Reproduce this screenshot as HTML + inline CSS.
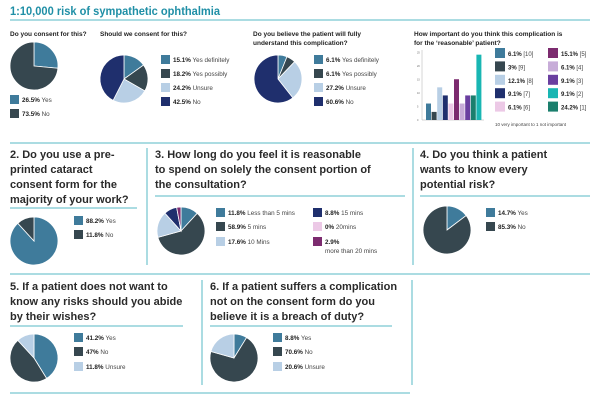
<!DOCTYPE html>
<html><head><meta charset="utf-8"><style>
body{margin:0;background:#fff;width:600px;height:400px;overflow:hidden;font-family:"Liberation Sans",sans-serif}
svg{position:absolute;left:0;top:0}
</style></head><body>
<svg id="s" width="600" height="400" viewBox="0 0 600 400" font-family="Liberation Sans, sans-serif">
<text x="10" y="15" font-size="12" font-weight="bold" fill="#1f8fa6" textLength="210" lengthAdjust="spacingAndGlyphs">1:10,000 risk of sympathetic ophthalmia</text>
<g stroke="#8fd0d9" stroke-width="1.5">
<line x1="10" y1="20" x2="590" y2="20"/>
<line x1="10" y1="143" x2="590" y2="143"/>
<line x1="147" y1="148" x2="147" y2="265"/>
<line x1="413" y1="148" x2="413" y2="265"/>
<line x1="10" y1="208" x2="137" y2="208"/>
<line x1="155" y1="196" x2="405" y2="196"/>
<line x1="420" y1="196" x2="590" y2="196"/>
<line x1="10" y1="274" x2="590" y2="274"/>
<line x1="202" y1="280" x2="202" y2="385"/>
<line x1="412" y1="280" x2="412" y2="385"/>
<line x1="10" y1="326" x2="183" y2="326"/>
<line x1="210" y1="326" x2="392" y2="326"/>
<line x1="10" y1="393" x2="410" y2="393"/>
</g>
<g font-size="6.5" font-weight="bold" fill="#222">
<text x="10" y="36">Do you consent for this?</text>
<text x="100" y="36">Should we consent for this?</text>
<text x="253" y="36">Do you believe the patient will fully</text>
<text x="253" y="45">understand this complication?</text>
<text x="414" y="36">How important do you think this complication is</text>
<text x="414" y="45">for the ‘reasonable’ patient?</text>
</g>
<g font-size="11" font-weight="bold" fill="#2a2a2a">
<text x="10" y="158">2. Do you use a pre-</text>
<text x="10" y="173">printed cataract</text>
<text x="10" y="188">consent form for the</text>
<text x="10" y="203">majority of your work?</text>
<text x="155" y="158">3. How long do you feel it is reasonable</text>
<text x="155" y="173">to spend on solely the consent portion of</text>
<text x="155" y="188">the consultation?</text>
<text x="420" y="158">4. Do you think a patient</text>
<text x="420" y="173">wants to know every</text>
<text x="420" y="188">potential risk?</text>
<text x="10" y="290">5. If a patient does not want to</text>
<text x="10" y="305">know any risks should you abide</text>
<text x="10" y="320">by their wishes?</text>
<text x="210" y="290">6. If a patient suffers a complication</text>
<text x="210" y="305">not on the consent form do you</text>
<text x="210" y="320">believe it is a breach of duty?</text>
</g>
<g id="bar"></g>
<text x="495" y="126" font-size="4.5" fill="#444">10 very important to 1 not important</text>
</svg>
<script>
var S=document.getElementById('s'),NS='http://www.w3.org/2000/svg';
var C={s:'#3f7b9b',d:'#36474f',l:'#b8cfe5',n:'#1f2f6d',p:'#7c2b6f',pk:'#ecc9e6',li:'#c7acd8',v:'#6a3fa0',cy:'#19b6b3',g:'#1b7f6d'};
function el(t,a,txt){var e=document.createElementNS(NS,t);for(var k in a)e.setAttribute(k,a[k]);if(txt)e.textContent=txt;S.appendChild(e);return e;}
function pie(cx,cy,r,d){var a=-Math.PI/2,tot=0;d.forEach(function(x){tot+=x[0]});d.forEach(function(x){if(x[0]<=0)return;var b=a+x[0]/tot*2*Math.PI;var lg=b-a>Math.PI?1:0;
el('path',{d:'M'+cx+','+cy+'L'+(cx+r*Math.cos(a))+','+(cy+r*Math.sin(a))+'A'+r+','+r+' 0 '+lg+' 1 '+(cx+r*Math.cos(b))+','+(cy+r*Math.sin(b))+'Z',fill:C[x[1]],stroke:'#fff','stroke-width':0.8});a=b;});}
function leg(x,y,c,b,t,fs,sz){sz=sz||9;fs=fs||6.3;el('rect',{x:x,y:y,width:sz,height:sz,fill:C[c]});var e=el('text',{x:x+sz+3,y:y+sz-2,'font-size':fs,fill:'#444'});var tb=document.createElementNS(NS,'tspan');tb.setAttribute('font-weight','bold');tb.setAttribute('fill','#222');tb.textContent=b;e.appendChild(tb);e.appendChild(document.createTextNode(' '+t));}
pie(34,66,24,[[26.5,'s'],[73.5,'d']]);leg(10,95,'s','26.5%','Yes');leg(10,109,'d','73.5%','No');
pie(124,79,24,[[15.1,'s'],[18.2,'d'],[24.2,'l'],[42.5,'n']]);
leg(161,55,'s','15.1%','Yes definitely');leg(161,69,'d','18.2%','Yes possibly');leg(161,83,'l','24.2%','Unsure');leg(161,97,'n','42.5%','No');
pie(278,79,24,[[6.1,'s'],[6.1,'d'],[27.2,'l'],[60.6,'n']]);
leg(314,55,'s','6.1%','Yes definitely');leg(314,69,'d','6.1%','Yes possibly');leg(314,83,'l','27.2%','Unsure');leg(314,97,'n','60.6%','No');
var base=120,sc=2.7;el('line',{x1:422,y1:50,x2:422,y2:base,stroke:'#999','stroke-width':0.4});el('line',{x1:422,y1:base,x2:484,y2:base,stroke:'#999','stroke-width':0.4});
[0,5,10,15,20,25].forEach(function(v){el('text',{x:417,y:base-v*sc+1,'font-size':2.5,fill:'#666'},''+v)});
[[6.1,'s'],[3,'d'],[12.1,'l'],[9.1,'n'],[6.1,'pk'],[15.1,'p'],[6.1,'li'],[9.1,'v'],[9.1,'g'],[24.2,'cy']].forEach(function(b,i){el('rect',{x:426+i*5.6,y:base-b[0]*sc,width:5,height:b[0]*sc,fill:C[b[1]]})});
var L1=[['s','6.1%','[10]'],['d','3%','[9]'],['l','12.1%','[8]'],['n','9.1%','[7]'],['pk','6.1%','[6]']],L2=[['p','15.1%','[5]'],['li','6.1%','[4]'],['v','9.1%','[3]'],['cy','9.1%','[2]'],['g','24.2%','[1]']];
L1.forEach(function(r,i){leg(495,48+i*13.4,r[0],r[1],r[2],6,10)});L2.forEach(function(r,i){leg(548,48+i*13.4,r[0],r[1],r[2],6,10)});
pie(34,241,24,[[88.2,'s'],[11.8,'d']]);leg(74,216,'s','88.2%','Yes');leg(74,230,'d','11.8%','No');
pie(181,231,24,[[11.8,'s'],[58.9,'d'],[17.6,'l'],[8.8,'n'],[0,'pk'],[2.9,'p']]);
leg(216,208,'s','11.8%','Less than 5 mins');leg(216,222,'d','58.9%','5 mins');leg(216,237,'l','17.6%','10 Mins');
leg(313,208,'n','8.8%','15 mins');leg(313,222,'pk','0%','20mins');leg(313,237,'p','2.9%','');el('text',{x:325,y:253,'font-size':6.3,fill:'#444'},'more than 20 mins');
pie(447,230,24,[[14.7,'s'],[85.3,'d']]);leg(486,208,'s','14.7%','Yes');leg(486,222,'d','85.3%','No');
pie(34,358,24,[[41.2,'s'],[47,'d'],[11.8,'l']]);leg(74,333,'s','41.2%','Yes');leg(74,347,'d','47%','No');leg(74,362,'l','11.8%','Unsure');
pie(234,358,24,[[8.8,'s'],[70.6,'d'],[20.6,'l']]);leg(273,333,'s','8.8%','Yes');leg(273,347,'d','70.6%','No');leg(273,362,'l','20.6%','Unsure');
</script>
</body></html>
